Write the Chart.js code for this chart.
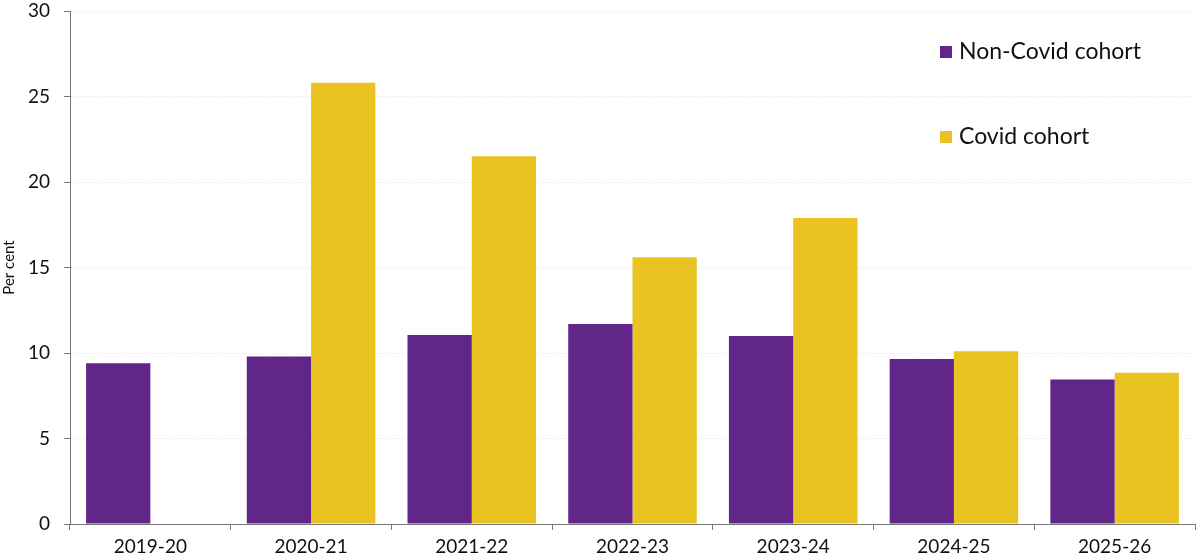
<!DOCTYPE html>
<html>
<head>
<meta charset="utf-8">
<script src="https://cdn.jsdelivr.net/npm/chart.js@4.4.1/dist/chart.umd.min.js"></script>
<style>
  html, body { margin: 0; padding: 0; background: #fff; }
  #wrap { width: 1200px; height: 560px; position: relative; }
</style>
</head>
<body>
<div id="wrap"><canvas id="cohortChart"></canvas></div>
<script>
const years = ["2019-20", "2020-21", "2021-22", "2022-23", "2023-24", "2024-25", "2025-26"];
const nonCovid = [9.4, 9.8, 11.05, 11.7, 11.0, 9.65, 8.45];
const covid = [null, 25.8, 21.5, 15.6, 17.9, 10.1, 8.85];
const yTicks = [0, 5, 10, 15, 20, 25, 30];

const purple = "#62258a";
const yellow = "#e8c322";
const fontFamily = "Lato, 'Noto Sans', sans-serif";

// legend drawn inside the plot, top right
const insideLegend = {
  id: "insideLegend",
  afterDraw(chart) {
    const ctx = chart.ctx;
    const items = [
      { label: "Non-Covid cohort", color: purple, y: 52 },
      { label: "Covid cohort", color: yellow, y: 137 },
    ];
    ctx.save();
    ctx.font = "23px " + fontFamily;
    ctx.textBaseline = "middle";
    items.forEach((it) => {
      ctx.fillStyle = it.color;
      ctx.fillRect(940, it.y - 6, 12, 12);
      ctx.fillStyle = "#111";
      ctx.fillText(it.label, 959, it.y);
    });
    ctx.restore();
  },
};

document.addEventListener("DOMContentLoaded", function () {
  const ctx = document.getElementById("cohortChart").getContext("2d");
  new Chart(ctx, {
    type: "bar",
    data: {
      labels: years,
      datasets: [
        {
          label: "Non-Covid cohort",
          data: nonCovid,
          backgroundColor: purple,
          categoryPercentage: 0.8,
          barPercentage: 1.0,
        },
        {
          label: "Covid cohort",
          data: covid,
          backgroundColor: yellow,
          categoryPercentage: 0.8,
          barPercentage: 1.0,
        },
      ],
    },
    plugins: [insideLegend],
    options: {
      responsive: true,
      maintainAspectRatio: false,
      animation: false,
      layout: { padding: { top: 11, right: 5, left: 0, bottom: 0 } },
      plugins: {
        legend: { display: false },
        tooltip: { enabled: false },
      },
      scales: {
        x: {
          grid: {
            offset: true,
            drawOnChartArea: false,
            drawTicks: true,
            tickLength: 6,
            tickColor: "#777",
          },
          border: { color: "#777", width: 1 },
          ticks: {
            color: "#111",
            font: { family: fontFamily, size: 19 },
            padding: 5,
          },
          afterFit: (s) => { s.height = 36; },
        },
        y: {
          min: 0,
          max: 30,
          afterBuildTicks: (s) => { s.ticks = yTicks.map((v) => ({ value: v })); },
          grid: {
            color: "#e2e2e2",
            tickColor: "#777",
            tickLength: 6,
            tickBorderDash: [],
          },
          border: { color: "#777", width: 1, dash: [1, 2] },
          ticks: {
            color: "#111",
            font: { family: fontFamily, size: 19 },
            padding: 14,
          },
          title: {
            display: true,
            text: "Per cent",
            color: "#111",
            font: { family: fontFamily, size: 15 },
            padding: { top: 0, bottom: 0 },
          },
          afterFit: (s) => {
            s.width = 70;
            s.paddingTop = 0;
            s.paddingBottom = 0;
          },
        },
      },
    },
  });
});
</script>
</body>
</html>
